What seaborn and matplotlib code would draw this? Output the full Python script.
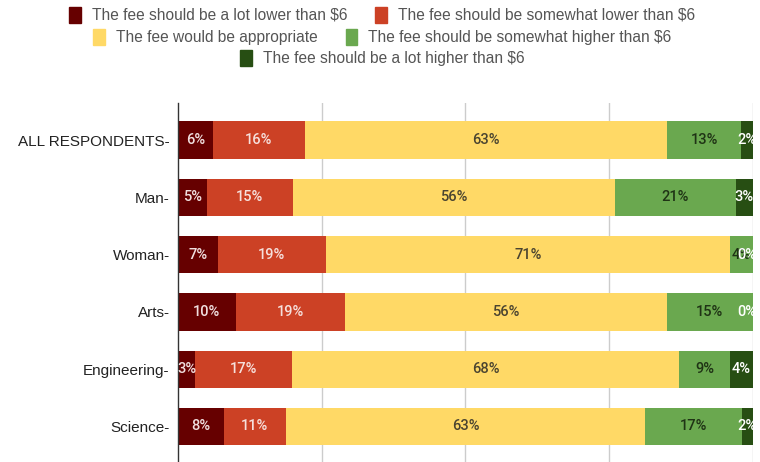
import numpy as np
import pandas as pd
import matplotlib
matplotlib.use("Agg")
import matplotlib.pyplot as plt
import seaborn as sns
from matplotlib.patches import Patch

# -----------------------------
# Data (percent)
# -----------------------------
groups = ["ALL RESPONDENTS", "Man", "Woman", "Arts", "Engineering", "Science"]
answers = [
    "The fee should be a lot lower than $6",
    "The fee should be somewhat lower than $6",
    "The fee would be appropriate",
    "The fee should be somewhat higher than $6",
    "The fee should be a lot higher than $6",
]
lot_lower = [6, 5, 7, 10, 3, 8]
some_lower = [16, 15, 19, 19, 17, 11]
appropriate = [63, 56, 71, 56, 68, 63]
some_higher = [13, 21, 4, 15, 9, 17]
lot_higher = [2, 3, 0, 0, 4, 2]

colors = ["#660000", "#cc4125", "#ffd966", "#6aa84f", "#274e13"]
label_colors = ["#f0dede", "#f6e0dc", "#4a4430", "#1f3315", "#ffffff"]

vals = np.array([lot_lower, some_lower, appropriate, some_higher, lot_higher], dtype=float)
share = vals / vals.sum(axis=0)  # 100% stacked
cum = np.cumsum(share, axis=0)

df = pd.DataFrame({"group": groups})
for k in range(len(answers)):
    df[f"cum{k}"] = cum[k]

plt.rcParams["font.family"] = ["Liberation Sans", "DejaVu Sans"]
fig = plt.figure(figsize=(7.6, 4.62), dpi=100)
ax = fig.add_axes([178 / 760, 0.0, 575 / 760, 1 - 103 / 462])

# draw from the full bar backwards so each segment sits on top of the next
for k in reversed(range(len(answers))):
    sns.barplot(data=df, x=f"cum{k}", y="group", color=colors[k], orient="h",
                width=0.65, saturation=1, ax=ax, zorder=2)

# segment labels (kept inside the right edge like the original)
for k in range(len(answers)):
    starts = cum[k] - share[k]
    for i, g in enumerate(groups):
        xc = min(starts[i] + share[k][i] / 2, 0.99)
        ax.text(xc, i, f"{int(vals[k][i])}%",
                ha="center", va="center", fontsize=10.5, fontweight="medium",
                family=["Roboto", "DejaVu Sans"],
                color=label_colors[k], zorder=3)

ax.set_xlim(0, 1)
ax.set_ylim(5.62, -0.646)
ax.set_xticks([0.25, 0.5, 0.75, 1.0])
ax.set_xticklabels([])
ax.tick_params(axis="x", length=0)
ax.grid(axis="x", color="#cccccc", linewidth=1, zorder=0)
ax.set_axisbelow(True)
ax.set_xlabel("")
ax.set_ylabel("")
ax.set_yticks(range(len(groups)))
ax.set_yticklabels([g + "-" for g in groups])
ax.tick_params(axis="y", length=0, pad=6, labelsize=11, labelcolor="#222222")
for s in ["top", "right", "bottom"]:
    ax.spines[s].set_visible(False)
ax.spines["left"].set_color("#333333")
ax.spines["left"].set_linewidth(1)

# legend in three centred rows
handles = [Patch(facecolor=c, edgecolor=c) for c in colors]
rows = [(0.968, [0, 1]), (0.920, [2, 3]), (0.874, [4])]
for y, idx in rows:
    fig.legend([handles[i] for i in idx], [answers[i] for i in idx],
               loc="center", bbox_to_anchor=(0.503, y), ncol=len(idx),
               frameon=False, fontsize=11.2, handlelength=0.75, handleheight=1.2,
               handletextpad=0.7, columnspacing=1.8, borderpad=0,
               labelcolor="#555555")

fig.savefig("out.png", dpi=100)
